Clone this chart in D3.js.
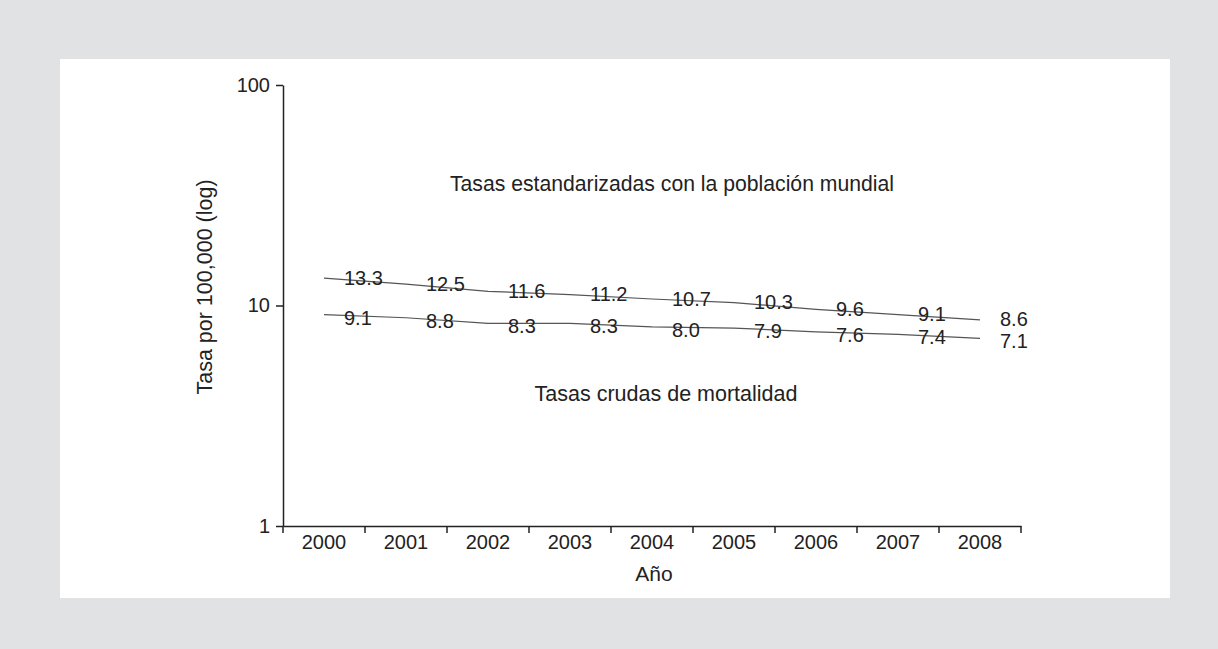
<!DOCTYPE html>
<html>
<head>
<meta charset="utf-8">
<script src="https://cdn.jsdelivr.net/npm/d3@7"></script>
<style>
  html, body { margin: 0; padding: 0; background: #e1e2e4; }
  svg { display: block; }
  text { font-family: "Liberation Sans", Arial, Helvetica, sans-serif; fill: #222; }
</style>
</head>
<body>
<svg id="chart" width="1218" height="649"></svg>
<script>
const years = ["2000","2001","2002","2003","2004","2005","2006","2007","2008"];
const standardized = [13.3, 12.5, 11.6, 11.2, 10.7, 10.3, 9.6, 9.1, 8.6];
const crude = [9.1, 8.8, 8.3, 8.3, 8.0, 7.9, 7.6, 7.4, 7.1];
const yTicks = [1, 10, 100];
const labelStandardized = "Tasas estandarizadas con la población mundial";
const labelCrude = "Tasas crudas de mortalidad";
const xTitle = "Año";
const yTitle = "Tasa por 100,000 (log)";

const svg = d3.select("#chart");

svg.append("rect").attr("x", 0).attr("y", 0).attr("width", 1218).attr("height", 649).attr("fill", "#e1e2e4");
svg.append("rect").attr("x", 60).attr("y", 59).attr("width", 1110).attr("height", 539).attr("fill", "#ffffff");

const x = d3.scaleBand().domain(years).range([283, 1021]).padding(0);
const y = d3.scaleLog().domain([1, 100]).range([526, 85]);
const cx = d => x(d) + x.bandwidth() / 2;

// Y axis
const yAxis = svg.append("g").attr("transform", "translate(283,0)")
  .call(d3.axisLeft(y).tickValues(yTicks).tickFormat(d3.format("d")).tickSize(7).tickSizeOuter(0).tickPadding(6));
yAxis.select(".domain").attr("stroke", "#222").attr("stroke-width", 1.5);
yAxis.selectAll(".tick line").attr("stroke", "#222").attr("stroke-width", 1.5);
yAxis.selectAll(".tick text").attr("font-size", 20).attr("fill", "#222")
  .attr("font-family", "'Liberation Sans', Arial, sans-serif");

// X axis (labels centered in bands, ticks at band boundaries)
const xAxis = svg.append("g").attr("transform", "translate(0,526)")
  .call(d3.axisBottom(x).tickSize(0).tickSizeOuter(0).tickPadding(9));
xAxis.select(".domain").attr("stroke", "#222").attr("stroke-width", 1.5);
xAxis.selectAll(".tick text").attr("font-size", 20).attr("fill", "#222")
  .attr("font-family", "'Liberation Sans', Arial, sans-serif");
const bounds = years.map(d => x(d)).concat([x.range()[1]]);
xAxis.selectAll("line.bound").data(bounds).enter().append("line")
  .attr("class", "bound")
  .attr("x1", d => d).attr("x2", d => d)
  .attr("y1", 0).attr("y2", 7)
  .attr("stroke", "#222").attr("stroke-width", 1.5);

// Lines
const line = d3.line().x((d, i) => cx(years[i])).y(d => y(d));
[standardized, crude].forEach(series => {
  svg.append("path").datum(series)
    .attr("d", line)
    .attr("fill", "none")
    .attr("stroke", "#555")
    .attr("stroke-width", 1.2);
});

// Value labels
function labels(series, dy) {
  svg.append("g").selectAll("text").data(series).enter().append("text")
    .attr("x", (d, i) => cx(years[i]) + 20)
    .attr("y", d => y(d) + dy)
    .attr("font-size", 20)
    .text(d => d3.format(".1f")(d));
}
labels(standardized, 6.5);
labels(crude, 10);

// Annotations
svg.append("text").attr("x", 672).attr("y", 191).attr("text-anchor", "middle")
  .attr("font-size", 21.2).text(labelStandardized);
svg.append("text").attr("x", 666).attr("y", 401).attr("text-anchor", "middle")
  .attr("font-size", 21.5).text(labelCrude);

// Axis titles
svg.append("text").attr("x", 654).attr("y", 581).attr("text-anchor", "middle")
  .attr("font-size", 21).text(xTitle);
svg.append("text").attr("transform", "translate(212,287) rotate(-90)").attr("text-anchor", "middle")
  .attr("font-size", 21.5).text(yTitle);
</script>
</body>
</html>
